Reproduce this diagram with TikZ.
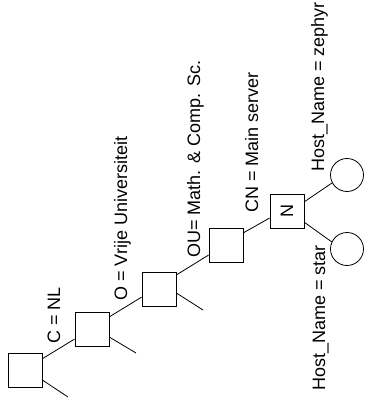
\documentclass[tikz,border=0pt]{standalone}
\usepackage{fontspec}
\setmainfont{Liberation Sans}
\usetikzlibrary{calc}

\begin{document}
\begin{tikzpicture}[x=1pt,y=-1pt,line width=0.8pt,
		entry/.style={draw,minimum size=34pt,inner sep=0pt,font=\fontsize{18}{20}\selectfont},
		leaf/.style={draw,circle,minimum size=33pt,inner sep=0pt},
		attr/.style={rotate=90,anchor=base west,inner sep=0pt,font=\fontsize{18}{20}\selectfont}]
	\useasboundingbox (0,0) rectangle (365,403);
	
	% entries of the naming tree
	\node[entry] (b1) at (25,370) {};
	\node[entry] (b2) at (92,329) {};
	\node[entry] (b3) at (159,289) {};
	\node[entry] (b4) at (226,245) {};
	\node[entry] (bn) at (287,211) {\rotatebox{90}{N}};
	\node[leaf] (h1) at (347,175) {};
	\node[leaf] (h2) at (347,249) {};
	
	% loose ends
	\coordinate (e1) at (68,397);
	\coordinate (e2) at (136,353);
	\coordinate (e3) at (203,310);
	
	\draw (b1.33) -- (b2.210.5);
	\draw (b2.35) -- (b3.205);
	\draw (b3.39.5) -- (b4.210.5);
	\draw (b4.35) -- (bn.202.4);
	\draw (bn.28) -- (h1.208);
	\draw (bn.-33) -- (h2.155);
	\draw (b1.-30.5) -- (e1);
	\draw (b2.-25) -- (e2);
	\draw (b3.-13) -- (e3);
	
	% attribute labels
	\node[attr] (t1) at (60,344) {C = NL};
	\node[attr] (t2) at (127,301) {O = Vrije Universiteit};
	\node[attr] (t3) at (200,258) {OU= Math. \& Comp. Sc.};
	\node[attr] (t4) at (258,213) {CN = Main server};
	\node[attr] (t5) at (324,172) {Host\_Name = zephyr};
	\node[attr] (t6) at (325,391) {Host\_Name = star};
\end{tikzpicture}
\end{document}
